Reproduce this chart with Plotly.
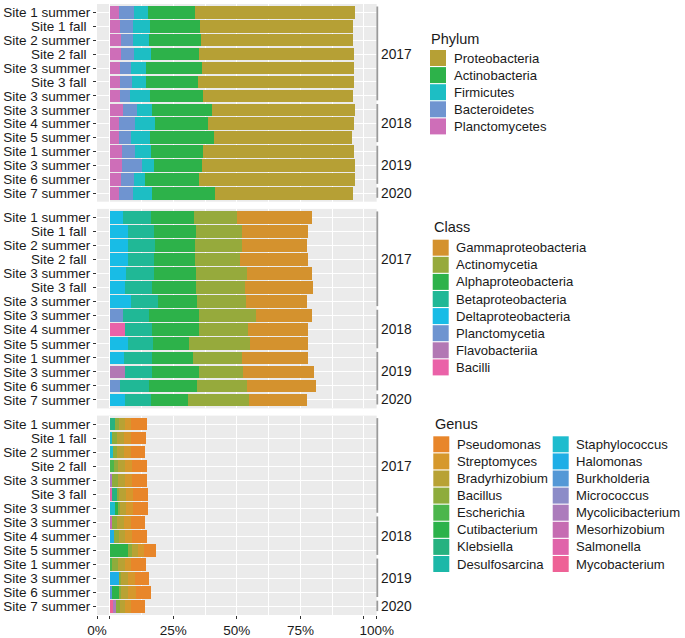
import plotly.graph_objects as go

W, H = 685, 638
FONT = "Liberation Sans, Arial, Helvetica, sans-serif"
TXT = "#1a1a1a"

# ---------------- data ----------------
site_labels = ["Site 1 summer", "Site 1 fall\u00a0", "Site 2 summer", "Site 2 fall\u00a0",
               "Site 3 summer", "Site 3 fall\u00a0", "Site 3 summer", "Site 3 summer",
               "Site 4 summer", "Site 5 summer", "Site 1 summer", "Site 3 summer",
               "Site 6 summer", "Site 7 summer"]
sample_years = ["2017"] * 7 + ["2018"] * 3 + ["2019"] * 3 + ["2020"]
year_labels = ["2017", "2018", "2019", "2020"]
pct_labels = ["0%", "", "25%", "50%", "75%", "", "100%"]

# Phylum (% of reads), stacking order left -> right
planctomycetes = [3.8, 4.2, 4.3, 4.5, 4.2, 4.2, 3.9, 5.4, 3.8, 3.7, 4.7, 4.7, 4.6, 3.8]
bacteroidetes = [5.9, 4.9, 4.9, 5.0, 4.2, 4.6, 3.9, 5.5, 6.2, 4.5, 5.4, 8.1, 5.1, 5.5]
firmicutes = [5.4, 6.6, 6.4, 6.6, 5.9, 5.5, 7.9, 5.9, 8.0, 7.5, 6.3, 4.7, 4.2, 7.4]
actinobacteria = [18.3, 19.7, 20.4, 19.1, 21.8, 20.6, 20.8, 23.4, 20.8, 25.5, 20.1, 18.8, 21.2, 24.8]
proteobacteria = [63.2, 60.3, 59.7, 60.7, 59.9, 61.0, 59.0, 56.4, 57.4, 54.1, 59.4, 60.1, 61.5, 54.3]

# Class
bacilli = [0, 0, 0, 0, 0, 0, 0, 0, 5.9, 0, 0, 0, 0, 0]
flavobacteriia = [0, 0, 0, 0, 0, 0, 0, 0, 0, 0, 0, 6.2, 0, 0]
planctomycetia = [0, 0, 0, 0, 0, 0, 0, 5.1, 0, 0, 0, 0, 4.2, 0]
deltaproteobacteria = [5.4, 7.2, 7.3, 7.2, 6.5, 6.0, 8.2, 0, 0, 7.0, 5.8, 0, 0, 6.2]
betaproteobacteria = [11.0, 10.4, 10.5, 10.4, 10.8, 10.8, 10.6, 10.5, 10.6, 10.1, 11.0, 10.4, 11.4, 10.1]
alphaproteobacteria = [16.6, 16.2, 15.9, 15.9, 16.7, 17.0, 15.6, 19.7, 18.7, 13.9, 16.0, 18.4, 18.7, 14.5]
actinomycetia = [17.2, 18.1, 18.5, 17.9, 20.0, 19.3, 19.2, 22.2, 19.3, 24.3, 19.2, 17.6, 19.7, 23.8]
gammaproteobacteria = [29.3, 26.1, 25.2, 26.4, 25.5, 26.7, 23.9, 22.1, 23.5, 22.6, 26.0, 27.6, 27.3, 23.0]

# Genus
mycobacterium = [0, 0, 0, 0, 0, 0, 0, 0, 0, 0, 0, 0, 0, 1.1]
salmonella = [0, 0, 0, 0, 0, 0.8, 0, 0, 0, 0, 0, 0, 0, 0]
mesorhizobium = [0, 0, 0, 0, 0, 0, 0, 1.0, 0, 0, 0, 0, 0, 0]
mycolicibacterium = [0, 0, 0, 0, 1.0, 0, 0, 0, 0, 0, 0, 0, 0, 1.4]
micrococcus = [0] * 14
burkholderia = [0, 0, 0, 0, 0, 0, 0, 0, 0, 0, 0, 0, 1.0, 0]
halomonas = [0, 0, 0, 0, 0, 0, 0, 0, 1.8, 0, 0, 4.0, 0, 0]
staphylococcus = [0, 0.9, 1.2, 0, 0, 0, 2.1, 0, 0, 0, 0, 0, 0, 0]
desulfosarcina = [0] * 14
klebsiella = [2.0, 0, 0, 0, 0, 2.1, 0, 0, 0, 0, 0, 0, 0, 0]
cutibacterium = [0, 0, 0, 0, 0, 0, 1.0, 0, 0, 7.3, 0, 0, 2.8, 0]
escherichia = [0, 0, 0, 1.8, 0, 0, 0, 0, 0, 0, 1.0, 0, 0, 0]
bacillus = [1.8, 2.0, 1.8, 1.6, 2.4, 0.9, 0.8, 2.0, 1.7, 1.5, 2.1, 0.6, 0.6, 1.5]
bradyrhizobium = [2.3, 2.6, 2.5, 2.6, 2.6, 2.5, 2.4, 2.6, 2.6, 2.3, 2.8, 2.4, 2.6, 2.2]
streptomyces = [2.2, 2.8, 2.8, 2.9, 2.9, 2.9, 2.8, 2.8, 2.8, 2.2, 2.3, 2.8, 3.2, 2.3]
pseudomonas = [6.5, 5.8, 5.4, 5.7, 5.6, 5.9, 5.8, 5.6, 5.6, 4.9, 5.9, 5.6, 5.9, 5.2]

# legend order (top -> bottom), with colours
phylum_names = ["Proteobacteria", "Actinobacteria", "Firmicutes", "Bacteroidetes", "Planctomycetes"]
phylum_colors = ["#B6A035", "#2DB24A", "#1DBEC4", "#6F94D0", "#CE6EB8"]
phylum_values = [proteobacteria, actinobacteria, firmicutes, bacteroidetes, planctomycetes]

class_names = ["Gammaproteobacteria", "Actinomycetia", "Alphaproteobacteria", "Betaproteobacteria",
               "Deltaproteobacteria", "Planctomycetia", "Flavobacteriia", "Bacilli"]
class_colors = ["#D4922E", "#96AA3C", "#2DB24A", "#20B896", "#18BCE6", "#6E94D0", "#B278B4", "#EA62A8"]
class_values = [gammaproteobacteria, actinomycetia, alphaproteobacteria, betaproteobacteria,
                deltaproteobacteria, planctomycetia, flavobacteriia, bacilli]

genus_names = ["Pseudomonas", "Streptomyces", "Bradyrhizobium", "Bacillus", "Escherichia",
               "Cutibacterium", "Klebsiella", "Desulfosarcina", "Staphylococcus", "Halomonas",
               "Burkholderia", "Micrococcus", "Mycolicibacterium", "Mesorhizobium", "Salmonella",
               "Mycobacterium"]
genus_colors = ["#E8862A", "#D6982C", "#B8A234", "#8EAC3C", "#4CB64C", "#2CB24A", "#26B280",
                "#1CB8A8", "#1EBCCE", "#1EAEE6", "#5498D6", "#8C8CC8", "#AC7CBC", "#C66CB2",
                "#E064AA", "#EE6296"]
genus_values = [pseudomonas, streptomyces, bradyrhizobium, bacillus, escherichia, cutibacterium,
                klebsiella, desulfosarcina, staphylococcus, halomonas, burkholderia, micrococcus,
                mycolicibacterium, mesorhizobium, salmonella, mycobacterium]

# ---------------- layout geometry (pixels) ----------------
PX_L, PX_R = 97.0, 376.7
panels_px = [(4.0, 201.7), (208.9, 408.4), (415.6, 615.0)]
NROW = len(site_labels)
rows = list(range(NROW))


def xp(px):
    return px / W


def yp(py):
    return 1 - py / H


def row_py(panel, r):
    top, bot = panels_px[panel]
    return top + (r + 0.6) / (NROW + 0.2) * (bot - top)


fig = go.Figure()

panel_sets = [(phylum_names, phylum_colors, phylum_values),
              (class_names, class_colors, class_values),
              (genus_names, genus_colors, genus_values)]

for p, (names, colors, values) in enumerate(panel_sets):
    suf = "" if p == 0 else str(p + 1)
    # stacking goes left->right in reverse legend order
    for name, col, vals in reversed(list(zip(names, colors, values))):
        fig.add_trace(go.Bar(
            x=vals, y=rows, orientation="h", name=name,
            marker=dict(color=col, line=dict(width=0)),
            width=0.9, showlegend=False,
            xaxis="x" + suf, yaxis="y" + suf,
            hovertemplate=name + ": %{x:.1f}%<extra></extra>"))

layout = dict(
    width=W, height=H, margin=dict(l=0, r=0, t=0, b=0, autoexpand=False),
    barmode="stack", plot_bgcolor="#EBEBEB", paper_bgcolor="white",
    font=dict(family=FONT, size=13.5, color=TXT),
    showlegend=False,
)

x_tickvals = [-5, 0, 25, 50, 75, 100, 105]
for p, (top, bot) in enumerate(panels_px):
    suf = "" if p == 0 else str(p + 1)
    bottom = (p == 2)
    layout["xaxis" + suf] = dict(
        domain=[xp(PX_L), xp(PX_R)], range=[-5, 105], anchor="y" + suf,
        automargin=False,
        tickmode="array", tickvals=x_tickvals, ticktext=pct_labels,
        showticklabels=bottom, ticks="outside" if bottom else "",
        ticklen=3, tickcolor="#333333", tickwidth=1,
        tickfont=dict(size=13.5, color=TXT, family=FONT),
        showgrid=True, gridcolor="white", gridwidth=1.1,
        zeroline=False, showline=False,
        minor=dict(tickvals=[12.5, 37.5, 62.5, 87.5], showgrid=True,
                   gridcolor="white", gridwidth=0.55, ticks=""),
    )
    layout["yaxis" + suf] = dict(
        domain=[yp(bot), yp(top)], range=[NROW - 0.4, -0.6], anchor="x" + suf,
        automargin=False,
        tickmode="array", tickvals=rows, ticktext=site_labels,
        ticks="outside", ticklen=3, tickcolor="#333333", tickwidth=1,
        tickfont=dict(size=13.5, color=TXT, family=FONT),
        showgrid=True, gridcolor="white", gridwidth=1.1,
        zeroline=False, showline=False,
    )

shapes = []
annotations = []

# year strips on the right of every panel
for p in range(3):
    for yr in year_labels:
        idx = [i for i, y in enumerate(sample_years) if y == yr]
        y0 = row_py(p, idx[0] - 0.42)
        y1 = row_py(p, idx[-1] + 0.32)
        shapes.append(dict(type="line", xref="paper", yref="paper",
                           x0=xp(PX_R + 0.6), x1=xp(PX_R + 0.6), y0=yp(y0), y1=yp(y1),
                           line=dict(color="#9A9A9A", width=1.8)))
        annotations.append(dict(xref="paper", yref="paper", x=xp(379.0),
                                y=yp(row_py(p, sum(idx) / len(idx))),
                                text=yr, showarrow=False, xanchor="left", yanchor="middle",
                                font=dict(size=13.8, color=TXT, family=FONT)))


# manual ggplot-style legends
def add_legend(title, names, colors, title_xy, cols_px, first_y, per_col, step=17.1):
    tx, ty = title_xy
    annotations.append(dict(xref="paper", yref="paper", x=xp(tx - 1), y=yp(ty),
                            text=title, showarrow=False, xanchor="left", yanchor="middle",
                            font=dict(size=14.5, color=TXT, family=FONT)))
    for i, (nm, col) in enumerate(zip(names, colors)):
        c, r = divmod(i, per_col)
        kx = cols_px[c]
        cy = first_y + r * step
        shapes.append(dict(type="rect", xref="paper", yref="paper",
                           x0=xp(kx), x1=xp(kx + 16), y0=yp(cy - 8), y1=yp(cy + 8),
                           fillcolor=col, line=dict(width=0)))
        annotations.append(dict(xref="paper", yref="paper", x=xp(kx + 21.5), y=yp(cy),
                                text=nm, showarrow=False, xanchor="left", yanchor="middle",
                                font=dict(size=13.1, color=TXT, family=FONT)))


add_legend("Phylum", phylum_names, phylum_colors, (430.0, 39.0), [430.0], 58.0, 5)
add_legend("Class", class_names, class_colors, (432.7, 226.7), [432.7], 247.7, 8)
add_legend("Genus", genus_names, genus_colors, (434.0, 424.0), [433.3, 552.7], 444.3, 8)

layout["shapes"] = shapes
layout["annotations"] = annotations
fig.update_layout(**layout)

fig.write_html("out.html", config={"displayModeBar": False},
               post_script="document.body.style.margin='0';document.body.style.overflow='hidden';")
